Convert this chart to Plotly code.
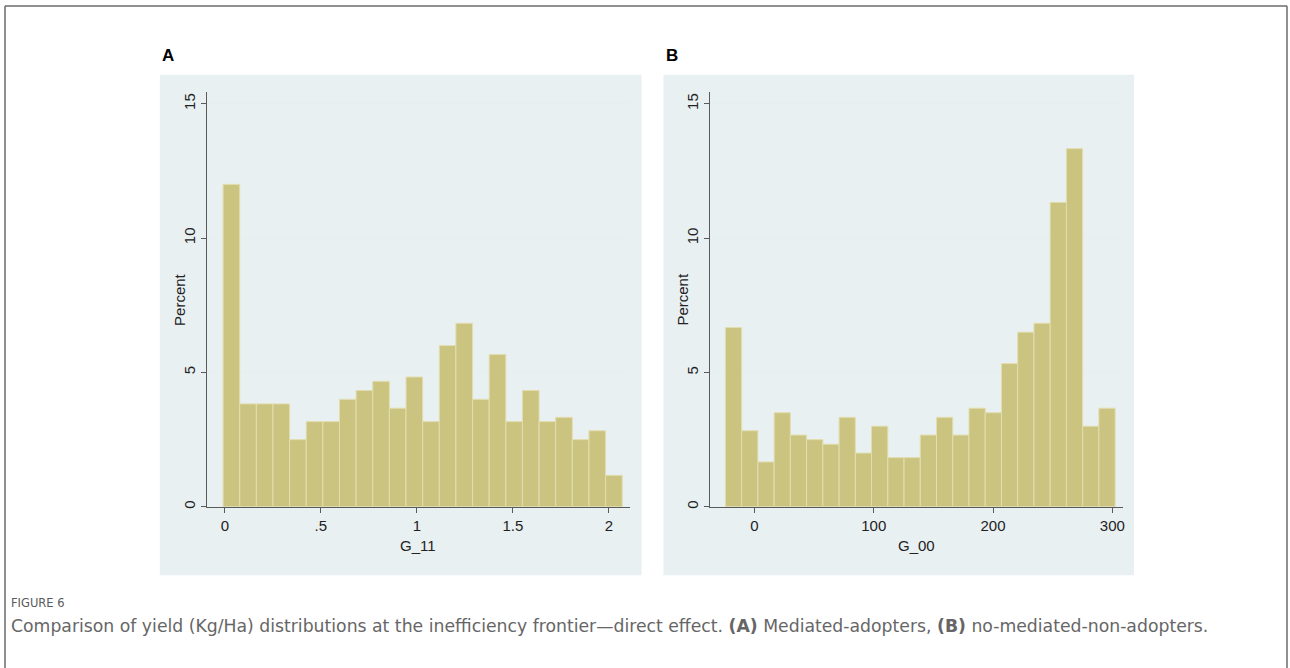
import plotly.graph_objects as go

W, H = 1290, 668

# ---- data ----
a_percent = [12.0, 3.83, 3.83, 3.83, 2.5, 3.17, 3.17, 4.0, 4.33, 4.67, 3.67, 4.83,
             3.17, 6.0, 6.83, 4.0, 5.67, 3.17, 4.33, 3.17, 3.33, 2.5, 2.83, 1.17]
a_bin_start = -0.009
a_bin_width = 0.0866

b_percent = [6.67, 2.83, 1.67, 3.5, 2.67, 2.5, 2.33, 3.33, 2.0, 3.0, 1.83, 1.83,
             2.67, 3.33, 2.67, 3.67, 3.5, 5.33, 6.5, 6.83, 11.33, 13.33, 3.0, 3.67]
b_bin_start = -24.3
b_bin_width = 13.61

a_xtick_vals = [0, 0.5, 1, 1.5, 2]
a_xtick_text = ["0", ".5", "1", "1.5", "2"]
b_xtick_vals = [0, 100, 200, 300]
b_xtick_text = ["0", "100", "200", "300"]
y_tick_vals = [0, 5, 10, 15]
y_tick_text = ["0", "5", "10", "15"]

a_xtitle = "G_11"
b_xtitle = "G_00"
y_title = "Percent"
panel_letters = ["A", "B"]
fig_label = "FIGURE 6"
caption = ("Comparison of yield (Kg/Ha) distributions at the inefficiency frontier\u2014direct effect. "
           "<b>(A)</b> Mediated-adopters, <b>(B)</b> no-mediated-non-adopters.")

# ---- styles ----
BAR_FILL = "#CBC380"
BAR_LINE = "#E2DEB0"
PANEL_BG = "#E9F0F2"
GRID = "#E6EEF0"
AXIS = "#5a5a5a"
SANS = "Liberation Sans, Arial, sans-serif"
TICKFONT = dict(family=SANS, size=15, color="#222222")
CAPFONT = "DejaVu Sans, Verdana, sans-serif"


def px(x):
    return x / W


def py(y):
    return 1 - y / H


def centers(start, width, n):
    return [start + (i + 0.5) * width for i in range(n)]


fig = go.Figure()

fig.add_trace(go.Bar(
    x=centers(a_bin_start, a_bin_width, len(a_percent)), y=a_percent, width=a_bin_width,
    marker=dict(color=BAR_FILL, line=dict(color=BAR_LINE, width=1)),
    xaxis="x", yaxis="y", showlegend=False, hoverinfo="x+y"))

fig.add_trace(go.Bar(
    x=centers(b_bin_start, b_bin_width, len(b_percent)), y=b_percent, width=b_bin_width,
    marker=dict(color=BAR_FILL, line=dict(color=BAR_LINE, width=1)),
    xaxis="x2", yaxis="y2", showlegend=False, hoverinfo="x+y"))

# plot areas (pixels)
A_X = (206.7, 630.7)
B_X = (711.0, 1124.3)
P_Y = (92.5, 508.3)
ydom = [py(P_Y[1]), py(P_Y[0])]

common_x = dict(showline=True, linecolor=AXIS, linewidth=1, ticks="outside", ticklen=5,
                tickcolor=AXIS, tickwidth=1, showgrid=False, zeroline=False,
                tickfont=TICKFONT, fixedrange=True)
common_y = dict(showline=True, linecolor=AXIS, linewidth=1, ticks="outside", ticklen=5,
                tickcolor=AXIS, tickwidth=1, showgrid=True, gridcolor=GRID, gridwidth=1,
                zeroline=False, tickfont=TICKFONT, tickangle=-90, range=[0, 15.43],
                tickvals=y_tick_vals, ticktext=y_tick_text, fixedrange=True)

fig.update_layout(
    width=W, height=H,
    margin=dict(l=0, r=0, t=0, b=0),
    paper_bgcolor="white", plot_bgcolor="white",
    barmode="overlay",
    xaxis=dict(domain=[px(A_X[0]), px(A_X[1])], range=[-0.0952, 2.111], anchor="y",
               tickvals=a_xtick_vals, ticktext=a_xtick_text, **common_x),
    yaxis=dict(domain=ydom, anchor="x", **common_y),
    xaxis2=dict(domain=[px(B_X[0]), px(B_X[1])], range=[-36.85, 309.3], anchor="y2",
                tickvals=b_xtick_vals, ticktext=b_xtick_text, **common_x),
    yaxis2=dict(domain=ydom, anchor="x2", **common_y),
)

shapes = []
# panel backgrounds
for x0, x1 in [(160, 642), (664, 1135)]:
    shapes.append(dict(type="rect", xref="paper", yref="paper", x0=px(x0), x1=px(x1),
                       y0=py(577), y1=py(75), fillcolor=PANEL_BG, line=dict(width=0),
                       layer="below"))
# outer frame
frame = dict(color="#6b6b6b", width=1.5)
shapes.append(dict(type="line", xref="paper", yref="paper", x0=px(5), x1=px(5),
                   y0=py(6), y1=py(700), line=frame))
shapes.append(dict(type="line", xref="paper", yref="paper", x0=px(5), x1=px(1288),
                   y0=py(6), y1=py(6), line=frame))
shapes.append(dict(type="line", xref="paper", yref="paper", x0=px(1288), x1=px(1288),
                   y0=py(6), y1=py(700), line=frame))
fig.update_layout(shapes=shapes)

ann = []
label_font = dict(family=SANS, size=15, color="#222222")
for cx, t in [((A_X[0] + A_X[1]) / 2, a_xtitle), ((B_X[0] + B_X[1]) / 2, b_xtitle)]:
    ann.append(dict(x=px(cx), y=py(547), xref="paper", yref="paper", text=t, showarrow=False,
                    xanchor="center", yanchor="middle", font=label_font))
for cx in [179, 683]:
    ann.append(dict(x=px(cx), y=py(300), xref="paper", yref="paper", text=y_title,
                    showarrow=False, textangle=-90, xanchor="center", yanchor="middle",
                    font=label_font))
for lx, t in [(160, panel_letters[0]), (665, panel_letters[1])]:
    ann.append(dict(x=px(lx), y=py(56), xref="paper", yref="paper", text="<b>" + t + "</b>",
                    showarrow=False, xanchor="left", yanchor="middle",
                    font=dict(family=SANS, size=17, color="#000000")))
ann.append(dict(x=px(9), y=py(605), xref="paper", yref="paper", text=fig_label, showarrow=False,
                xanchor="left", yanchor="middle",
                font=dict(family=CAPFONT, size=11.5, color="#5a5a5a")))
ann.append(dict(x=px(9), y=py(628), xref="paper", yref="paper", text=caption, showarrow=False,
                xanchor="left", yanchor="middle",
                font=dict(family=CAPFONT, size=17.25, color="#666666")))
fig.update_layout(annotations=ann)

fig.write_html("out.html", config={"displayModeBar": False},
               post_script="document.body.style.margin='0px';document.body.style.overflow='hidden';")
